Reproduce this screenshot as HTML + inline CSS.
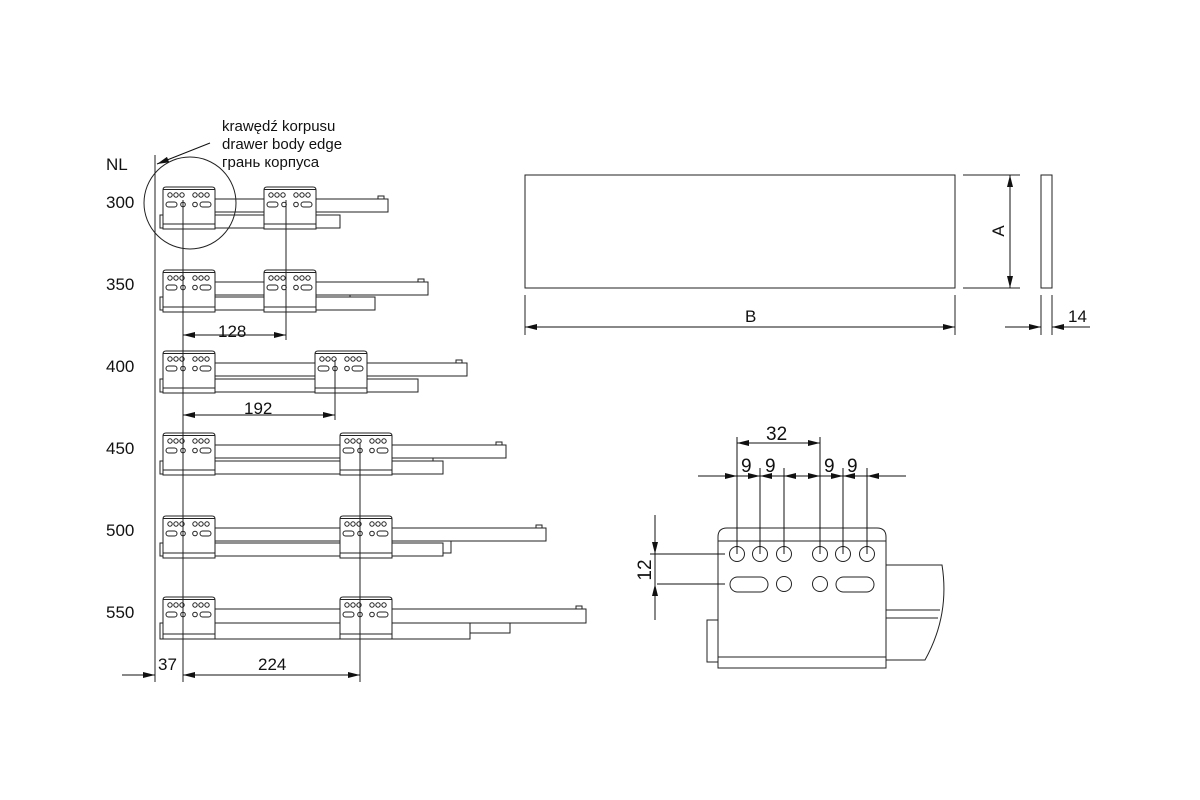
<!DOCTYPE html>
<html><head><meta charset="utf-8"><style>
html,body{margin:0;padding:0;background:#fff}
svg{display:block}
text{font-family:"Liberation Sans","DejaVu Sans",sans-serif;fill:#111}
</style></head><body>
<svg width="1200" height="800" viewBox="0 0 1200 800" xmlns="http://www.w3.org/2000/svg">
<defs>
<marker id="a" viewBox="0 0 12 6" refX="12" refY="3" markerWidth="12" markerHeight="6" markerUnits="userSpaceOnUse" orient="auto-start-reverse"><path d="M0,0L12,3L0,6z" fill="#111"/></marker>
<g id="br" fill="none" stroke="#222" stroke-width="1">
<path d="M0,42V3Q0,0 3,0H49Q52,0 52,3V42Z" fill="#fff"/>
<line x1="0" y1="2.5" x2="52" y2="2.5"/>
<line x1="0" y1="37" x2="52" y2="37"/>
<circle cx="7" cy="8" r="2.2"/><circle cx="13" cy="8" r="2.2"/><circle cx="19" cy="8" r="2.2"/>
<circle cx="32" cy="8" r="2.2"/><circle cx="38" cy="8" r="2.2"/><circle cx="44" cy="8" r="2.2"/>
<rect x="3" y="15" width="11" height="5" rx="2.5"/><circle cx="20" cy="17.5" r="2.3"/>
<circle cx="32" cy="17.5" r="2.3"/><rect x="37" y="15" width="11" height="5" rx="2.5"/>
</g>
</defs>
<g fill="none" stroke="#222" stroke-width="1">
<g transform="translate(0,187)">
<rect x="160" y="28" width="180" height="13" fill="#fff"/>
<rect x="215" y="12" width="173" height="13" fill="#fff"/><rect x="378" y="9" width="6" height="3"/>
<use href="#br" x="163" y="0"/><use href="#br" x="264" y="0"/>
</g>
<g transform="translate(0,270)">
<rect x="160" y="27" width="215" height="13" fill="#fff"/><polyline points="350,27 350,24"/>
<rect x="215" y="12" width="213" height="13" fill="#fff"/><rect x="418" y="9" width="6" height="3"/>
<use href="#br" x="163" y="0"/><use href="#br" x="264" y="0"/>
</g>
<g transform="translate(0,351)">
<rect x="160" y="28" width="258" height="13" fill="#fff"/>
<rect x="215" y="12" width="252" height="13" fill="#fff"/><rect x="456" y="9" width="6" height="3"/>
<use href="#br" x="163" y="0"/><use href="#br" x="315" y="0"/>
</g>
<g transform="translate(0,433)">
<rect x="160" y="28" width="283" height="13" fill="#fff"/><polyline points="433,28 433,25"/>
<rect x="215" y="12" width="291" height="13" fill="#fff"/><rect x="496" y="9" width="6" height="3"/>
<use href="#br" x="163" y="0"/><use href="#br" x="340" y="0"/>
</g>
<g transform="translate(0,516)">
<polyline points="440,25 451,25 451,37 443,37"/>
<rect x="160" y="27" width="283" height="13" fill="#fff"/>
<rect x="215" y="12" width="331" height="13" fill="#fff"/><rect x="536" y="9" width="6" height="3"/>
<use href="#br" x="163" y="0"/><use href="#br" x="340" y="0"/>
</g>
<g transform="translate(0,597)">
<polyline points="470,26 510,26 510,36 470,36"/>
<rect x="160" y="26" width="310" height="16" fill="#fff"/>
<rect x="215" y="12" width="371" height="14" fill="#fff"/><rect x="576" y="9" width="6" height="3"/>
<use href="#br" x="163" y="0"/><use href="#br" x="340" y="0"/>
</g>
<line x1="155" y1="155" x2="155" y2="682"/>
<line x1="183" y1="200" x2="183" y2="682"/>
<line x1="286" y1="200" x2="286" y2="340"/>
<line x1="335" y1="360" x2="335" y2="420"/>
<line x1="360" y1="443" x2="360" y2="682"/>
<circle cx="190" cy="203" r="46"/>
</g>
<g stroke="#111" stroke-width="1" fill="none">
<line x1="210" y1="143" x2="157" y2="164" marker-end="url(#a)"/>
<line x1="183" y1="335" x2="286" y2="335" marker-start="url(#a)" marker-end="url(#a)"/>
<line x1="183" y1="415" x2="335" y2="415" marker-start="url(#a)" marker-end="url(#a)"/>
<line x1="122" y1="675" x2="155" y2="675" marker-end="url(#a)"/>
<line x1="183" y1="675" x2="360" y2="675" marker-start="url(#a)" marker-end="url(#a)"/>
</g>
<text x="222" y="131" font-size="15">krawędź korpusu</text>
<text x="222" y="149" font-size="15">drawer body edge</text>
<text x="222" y="167" font-size="15">грань корпуса</text>
<text x="106" y="170" font-size="17">NL</text>
<text x="106" y="208" font-size="17">300</text>
<text x="106" y="290" font-size="17">350</text>
<text x="106" y="372" font-size="17">400</text>
<text x="106" y="454" font-size="17">450</text>
<text x="106" y="536" font-size="17">500</text>
<text x="106" y="618" font-size="17">550</text>
<text x="218" y="337" font-size="17">128</text>
<text x="244" y="414" font-size="17">192</text>
<text x="158" y="670" font-size="17">37</text>
<text x="258" y="670" font-size="17">224</text>

<g fill="none" stroke="#222" stroke-width="1">
<rect x="525" y="175" width="430" height="113"/>
<rect x="1041" y="175" width="11" height="113"/>
<line x1="963" y1="175" x2="1020" y2="175"/><line x1="963" y1="288" x2="1020" y2="288"/>
<line x1="525" y1="295" x2="525" y2="335"/><line x1="955" y1="295" x2="955" y2="335"/>
<line x1="1041" y1="295" x2="1041" y2="335"/><line x1="1052" y1="295" x2="1052" y2="335"/>
</g>
<g stroke="#111" stroke-width="1">
<line x1="1010" y1="175" x2="1010" y2="288" marker-start="url(#a)" marker-end="url(#a)"/>
<line x1="525" y1="327" x2="955" y2="327" marker-start="url(#a)" marker-end="url(#a)"/>
<line x1="1005" y1="327" x2="1041" y2="327" marker-end="url(#a)"/>
<line x1="1090" y1="327" x2="1052" y2="327" marker-end="url(#a)"/>
</g>
<text x="745" y="322" font-size="17">B</text>
<text x="1068" y="322" font-size="17">14</text>
<text transform="translate(1004,231) rotate(-90)" font-size="17" text-anchor="middle">A</text>

<g fill="none" stroke="#222" stroke-width="1">
<path d="M886,565H942Q950,615 925,660H886"/>
<line x1="886" y1="610" x2="940" y2="610"/><line x1="886" y1="618" x2="938" y2="618"/>
<polyline points="718,620 707,620 707,662 718,662"/>
<path d="M718,668V537Q718,528 727,528H877Q886,528 886,537V668Z" fill="#fff"/>
<line x1="718" y1="541" x2="886" y2="541"/>
<line x1="718" y1="657" x2="886" y2="657"/>
<circle cx="737" cy="554" r="7.5"/><circle cx="760" cy="554" r="7.5"/><circle cx="784" cy="554" r="7.5"/>
<circle cx="820" cy="554" r="7.5"/><circle cx="843" cy="554" r="7.5"/><circle cx="867" cy="554" r="7.5"/>
<rect x="730" y="577" width="38" height="15" rx="7.5"/><circle cx="784" cy="584" r="7.5"/>
<circle cx="820" cy="584" r="7.5"/><rect x="836" y="577" width="38" height="15" rx="7.5"/>
</g>
<g stroke="#111" stroke-width="1" fill="none">
<line x1="737" y1="437" x2="737" y2="554"/><line x1="820" y1="437" x2="820" y2="554"/>
<line x1="760" y1="468" x2="760" y2="554"/><line x1="784" y1="468" x2="784" y2="554"/>
<line x1="843" y1="468" x2="843" y2="554"/><line x1="867" y1="468" x2="867" y2="554"/>
<line x1="737" y1="443" x2="820" y2="443" marker-start="url(#a)" marker-end="url(#a)"/>
<line x1="698" y1="476" x2="737" y2="476" marker-end="url(#a)"/>
<line x1="737" y1="476" x2="760" y2="476" marker-end="url(#a)"/>
<line x1="784" y1="476" x2="760" y2="476" marker-end="url(#a)"/>
<line x1="784" y1="476" x2="820" y2="476" marker-start="url(#a)" marker-end="url(#a)"/>
<line x1="820" y1="476" x2="843" y2="476" marker-end="url(#a)"/>
<line x1="867" y1="476" x2="843" y2="476" marker-end="url(#a)"/>
<line x1="906" y1="476" x2="867" y2="476" marker-end="url(#a)"/>
<line x1="655" y1="515" x2="655" y2="554" marker-end="url(#a)"/>
<line x1="655" y1="620" x2="655" y2="584" marker-end="url(#a)"/>
<line x1="655" y1="554" x2="655" y2="584"/>
<line x1="650" y1="554" x2="725" y2="554"/><line x1="657" y1="584" x2="725" y2="584"/>
</g>
<text x="766" y="440" font-size="19">32</text>
<text x="741" y="472" font-size="19">9</text>
<text x="765" y="472" font-size="19">9</text>
<text x="824" y="472" font-size="19">9</text>
<text x="847" y="472" font-size="19">9</text>
<text transform="translate(651,570) rotate(-90)" font-size="19" text-anchor="middle">12</text>
</svg>
</body></html>
